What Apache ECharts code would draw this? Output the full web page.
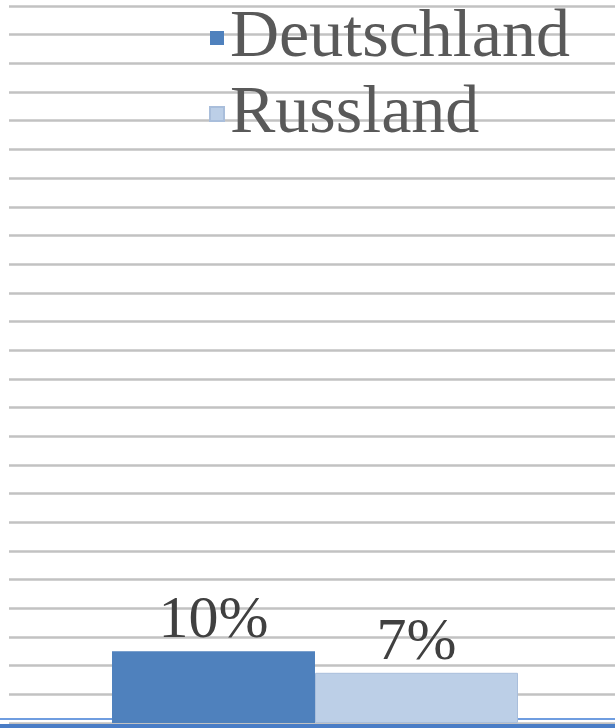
<!DOCTYPE html>
<html>
<head>
<meta charset="utf-8">
<script src="https://cdn.jsdelivr.net/npm/echarts@6/dist/echarts.min.js"></script>
<style>
  html, body { margin: 0; padding: 0; background: #ffffff; }
  #chart { width: 615px; height: 728px; }
</style>
</head>
<body>
<div id="chart"></div>
<script>
// Share values per country (percent)
const categories = [''];
const seriesNames = ['Deutschland', 'Russland'];
const deutschlandValues = [10];
const russlandValues = [7];
const seriesColors = ['#4f81bd', '#bccfe7'];

const chart = echarts.init(document.getElementById('chart'), null, { renderer: 'canvas' });

const serifFont = '"Liberation Serif", "Times New Roman", serif';

const labelStyle = {
  show: true,
  position: 'top',
  distance: 0,
  formatter: '{c}%',
  fontFamily: serifFont,
  fontSize: 60,
  color: '#404040'
};

const valueAxisBase = {
  type: 'value',
  min: 0,
  max: 100,
  interval: 4,
  axisLine: { show: false },
  axisTick: { show: false },
  axisLabel: { show: false }
};

const categoryAxisBase = {
  type: 'category',
  data: categories,
  axisLine: { show: false },
  axisTick: { show: false },
  axisLabel: { show: false }
};

chart.setOption({
  animation: false,
  backgroundColor: '#ffffff',
  // grid 0 carries the horizontal gridlines, grid 1 the bars
  grid: [
    { left: 9, right: 0, top: 6, bottom: 5 },
    { left: 15, right: 0, top: 6, bottom: 5 }
  ],
  legend: {
    orient: 'vertical',
    left: 204,
    top: -5,
    itemGap: 0,
    itemWidth: 14,
    itemHeight: 14,
    icon: 'rect',
    data: seriesNames,
    textStyle: {
      fontFamily: serifFont,
      fontSize: 68,
      lineHeight: 68,
      color: '#595959',
      padding: [8, 0, 0, 1]
    }
  },
  xAxis: [
    Object.assign({ gridIndex: 0 }, categoryAxisBase),
    Object.assign({ gridIndex: 1 }, categoryAxisBase)
  ],
  yAxis: [
    Object.assign({ gridIndex: 0, splitLine: { lineStyle: { color: '#c2c2c2', width: 2.5 } } }, valueAxisBase),
    Object.assign({ gridIndex: 1, splitLine: { show: false } }, valueAxisBase)
  ],
  series: [
    {
      name: seriesNames[0],
      type: 'bar',
      xAxisIndex: 1,
      yAxisIndex: 1,
      data: deutschlandValues,
      barWidth: 203,
      barGap: '0%',
      itemStyle: { color: seriesColors[0] },
      label: labelStyle,
      z: 3
    },
    {
      name: seriesNames[1],
      type: 'bar',
      xAxisIndex: 1,
      yAxisIndex: 1,
      data: russlandValues,
      barWidth: 203,
      itemStyle: { color: seriesColors[1], borderColor: '#a9bedb', borderWidth: 1 },
      label: labelStyle,
      z: 3
    }
  ],
  graphic: [
    // frame lines along the lower edge
    { type: 'rect', silent: true, z: 1, shape: { x: 0, y: 718, width: 615, height: 2 }, style: { fill: '#6f9de0' } },
    { type: 'rect', silent: true, z: 1, shape: { x: 0, y: 724, width: 615, height: 4 }, style: { fill: '#4a7dc6' } }
  ]
});
</script>
</body>
</html>
